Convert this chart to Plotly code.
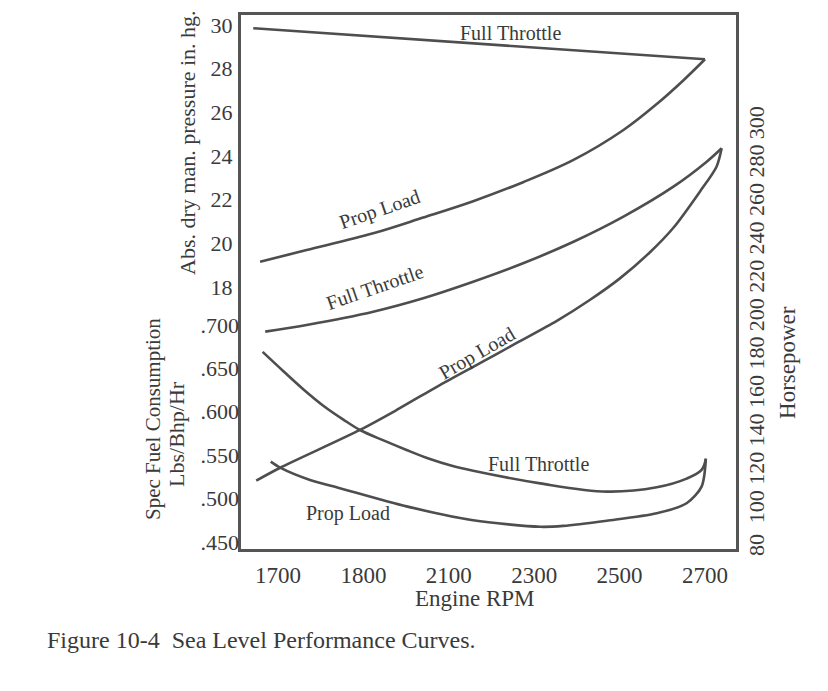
import plotly.graph_objects as go

# ---- axis ticks ----
rpm_tickvals = [1700, 1900, 2100, 2300, 2500, 2700]
rpm_ticktext = ["1700", "1800", "2100", "2300", "2500", "2700"]
map_tickvals = [18, 20, 22, 24, 26, 28, 30]
map_ticktext = ["18", "20", "22", "24", "26", "28", "30"]
sfc_tickvals = [0.45, 0.50, 0.55, 0.60, 0.65, 0.70]
sfc_ticktext = [".450", ".500", ".550", ".600", ".650", ".700"]
hp_tickvals = [80, 100, 120, 140, 160, 180, 200, 220, 240, 260, 280, 300]
hp_ticktext = ["80", "100", "120", "140", "160", "180", "200", "220", "240", "260", "280", "300"]

# ---- manifold pressure (in. hg) ----
map_ft_rpm = [1642, 2157, 2700]
map_ft = [29.85, 29.16, 28.43]
map_pl_rpm = [1658, 1767, 1923, 2040, 2157, 2274, 2392, 2509, 2587, 2649, 2700]
map_pl = [19.16, 19.69, 20.46, 21.18, 21.93, 22.80, 23.82, 25.19, 26.38, 27.46, 28.43]

# ---- horsepower ----
hp_ft_rpm = [1670, 1767, 1923, 2040, 2157, 2274, 2392, 2509, 2626, 2704, 2739]
hp_ft = [192.9, 196.4, 203.3, 210.3, 218.9, 228.5, 239.7, 252.8, 268.4, 281.4, 288.4]
hp_pl_rpm = [1649, 1705, 1892, 1978, 2079, 2173, 2259, 2353, 2431, 2500, 2570, 2626, 2688, 2727, 2739]
hp_pl = [115.3, 122.0, 141.7, 152.1, 165.1, 176.5, 187.0, 198.5, 209.5, 220.5, 234.0, 247.0, 265.8, 278.8, 288.4]

# ---- specific fuel consumption (lbs/bhp/hr) ----
sfc_ft_rpm = [1664, 1712, 1759, 1806, 1853, 1892, 1947, 2001, 2056, 2105, 2157, 2314, 2470, 2587, 2657, 2692, 2702]
sfc_ft = [0.669, 0.647, 0.626, 0.607, 0.591, 0.579, 0.567, 0.556, 0.5455, 0.538, 0.532, 0.5175, 0.508, 0.513, 0.523, 0.533, 0.546]
sfc_pl_rpm = [1683, 1705, 1775, 1845, 2001, 2157, 2314, 2368, 2470, 2587, 2657, 2692, 2702]
sfc_pl = [0.5425, 0.5356, 0.5214, 0.512, 0.491, 0.475, 0.4675, 0.4685, 0.4745, 0.483, 0.4946, 0.5137, 0.546]

FONT = "Liberation Serif"
INK = "#3a3a3a"
LINE = "#4e4e4e"
LW = 2.6

fig = go.Figure()

def add(x, y, axis, shape="spline", smooth=1.0):
    fig.add_trace(go.Scatter(x=x, y=y, yaxis=axis, mode="lines",
                             line=dict(color=LINE, width=LW, shape=shape, smoothing=smooth),
                             hoverinfo="skip", showlegend=False))

add(map_ft_rpm, map_ft, "y", "linear")
add(map_pl_rpm, map_pl, "y")
add(hp_ft_rpm, hp_ft, "y2")
add(hp_pl_rpm, hp_pl, "y2", smooth=0.8)
add(sfc_ft_rpm, sfc_ft, "y3")
add(sfc_pl_rpm, sfc_pl, "y3", smooth=0.8)

tickfont = dict(family=FONT, size=22, color=INK)

fig.update_layout(
    width=820, height=683,
    margin=dict(l=233, r=92, t=7, b=142),
    paper_bgcolor="white", plot_bgcolor="white",
    font=dict(family=FONT, color=INK),
    xaxis=dict(range=[1613.3, 2772.6], tickvals=rpm_tickvals, ticktext=rpm_ticktext,
               showline=True, mirror=True, linewidth=3, linecolor="#555",
               ticks="", showgrid=False, zeroline=False,
               tickfont=dict(family=FONT, size=23, color=INK),
               automargin=False, ticklabelstandoff=3),
    yaxis=dict(range=[6.0, 30.458], tickvals=map_tickvals, ticktext=map_ticktext,
               showline=True, mirror=True, linewidth=3, linecolor="#555",
               ticks="", showgrid=False, zeroline=False, tickfont=tickfont,
               automargin=False, ticklabelstandoff=1),
    yaxis2=dict(range=[79.69, 357.81], tickvals=hp_tickvals, ticktext=hp_ticktext,
                overlaying="y", side="right", anchor="x", tickangle=-90,
                showline=False, ticks="", showgrid=False, zeroline=False,
                tickfont=tickfont, automargin=False, ticklabelstandoff=5),
    yaxis3=dict(range=[0.4419, 1.0571], tickvals=sfc_tickvals, ticktext=sfc_ticktext,
                overlaying="y", side="left", anchor="x",
                showline=False, ticks="", showgrid=False, zeroline=False,
                tickfont=tickfont, automargin=False, ticklabelstandoff=1),
)

def note(text, x, y, xref, yref, size=20, angle=0, xanchor="center"):
    fig.add_annotation(text=text, x=x, y=y, xref=xref, yref=yref, showarrow=False,
                       textangle=angle, xanchor=xanchor, yanchor="middle",
                       font=dict(family=FONT, size=size, color=INK))

# curve labels
note("Full Throttle", 2245, 29.63, "x", "y")
note("Prop Load", 1939, 21.53, "x", "y", angle=-19)
note("Full Throttle", 1927, 216.3, "x", "y2", angle=-19)
note("Prop Load", 2165, 181.6, "x", "y2", angle=-30)
note("Full Throttle", 2311, 0.5404, "x", "y3")
note("Prop Load", 1864, 0.4828, "x", "y3")

# axis titles
note("Abs. dry man. pressure in. hg.", -0.1071, 0.7622, "paper", "paper", size=22, angle=-90)
note("Spec Fuel Consumption", -0.1778, 0.2434, "paper", "paper", size=21, angle=-90)
note("Lbs/Bhp/Hr", -0.1293, 0.2154, "paper", "paper", size=22, angle=-90)
note("Horsepower", 1.105, 0.3502, "paper", "paper", size=23, angle=-90)
note("Engine RPM", 0.4727, -0.092, "paper", "paper", size=23)
note("Figure 10-4\u00a0\u00a0Sea Level Performance Curves.", -0.396, -0.1704, "paper", "paper",
     size=24, xanchor="left")

fig.write_html("out.html")
